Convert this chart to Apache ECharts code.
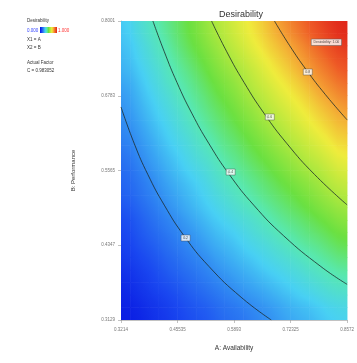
<!DOCTYPE html>
<html><head><meta charset="utf-8">
<script src="https://cdn.jsdelivr.net/npm/echarts@6/dist/echarts.min.js"></script>
<style>html,body{margin:0;padding:0;background:#fff}#c{width:357px;height:363px}</style>
</head><body><div id="c"></div>
<script>
// Grid cell centres (A: Availability, B: Performance)
const xCenters = [0.3326,0.3549,0.3772,0.3995,0.4219,0.4442,0.4665,0.4889,0.5112,0.5335,0.5558,0.5782,0.6005,0.6228,0.6452,0.6675,0.6898,0.7121,0.7345,0.7568,0.7791,0.8015,0.8238,0.8461];
const yCenters = [0.3231,0.3434,0.3637,0.3840,0.4043,0.4246,0.4449,0.4652,0.4855,0.5058,0.5261,0.5464,0.5667,0.5870,0.6073,0.6276,0.6479,0.6682,0.6885,0.7088,0.7291,0.7494,0.7697,0.7900];
// Desirability read from the colour field, rows bottom -> top
const desirability = [
[.02,.03,.04,.06,.07,.08,.10,.11,.12,.13,.15,.16,.17,.18,.20,.21,.22,.24,.25,.26,.27,.29,.30,.31],
[.03,.04,.06,.07,.08,.10,.11,.13,.14,.15,.17,.18,.19,.21,.22,.23,.25,.26,.28,.29,.30,.32,.33,.34],
[.04,.06,.07,.09,.10,.11,.13,.14,.16,.17,.19,.20,.22,.23,.24,.26,.27,.29,.30,.32,.33,.35,.36,.37],
[.05,.07,.08,.10,.12,.13,.15,.16,.18,.19,.21,.22,.24,.25,.27,.28,.30,.31,.33,.34,.36,.37,.39,.40],
[.07,.08,.10,.11,.13,.15,.16,.18,.19,.21,.23,.24,.26,.27,.29,.31,.32,.34,.35,.37,.39,.40,.42,.43],
[.08,.10,.11,.13,.15,.16,.18,.20,.21,.23,.25,.26,.28,.30,.31,.33,.35,.36,.38,.40,.41,.43,.45,.47],
[.09,.11,.13,.14,.16,.18,.20,.21,.23,.25,.27,.28,.30,.32,.34,.35,.37,.39,.41,.43,.44,.46,.48,.50],
[.10,.12,.14,.16,.18,.19,.21,.23,.25,.27,.29,.30,.32,.34,.36,.38,.40,.42,.43,.45,.47,.49,.51,.53],
[.11,.13,.15,.17,.19,.21,.23,.25,.27,.29,.31,.33,.35,.36,.38,.40,.42,.44,.46,.48,.50,.52,.54,.56],
[.13,.15,.17,.19,.21,.23,.25,.27,.29,.31,.33,.35,.37,.39,.41,.43,.45,.47,.49,.51,.53,.55,.57,.59],
[.14,.16,.18,.20,.22,.24,.26,.28,.30,.33,.35,.37,.39,.41,.43,.45,.47,.49,.51,.53,.55,.58,.60,.62],
[.15,.17,.19,.21,.24,.26,.28,.30,.32,.34,.37,.39,.41,.43,.45,.47,.50,.52,.54,.56,.58,.60,.63,.65],
[.16,.18,.21,.23,.25,.27,.30,.32,.34,.36,.39,.41,.43,.45,.48,.50,.52,.54,.57,.59,.61,.63,.66,.68],
[.17,.20,.22,.24,.27,.29,.31,.34,.36,.38,.41,.43,.45,.48,.50,.52,.55,.57,.59,.62,.64,.66,.69,.71],
[.19,.21,.23,.26,.28,.31,.33,.35,.38,.40,.43,.45,.47,.50,.52,.55,.57,.60,.62,.64,.67,.69,.72,.74],
[.20,.22,.25,.27,.30,.32,.35,.37,.40,.42,.45,.47,.50,.52,.55,.57,.60,.62,.65,.67,.70,.72,.75,.77],
[.21,.24,.26,.29,.31,.34,.36,.39,.42,.44,.47,.49,.52,.54,.57,.60,.62,.65,.67,.70,.72,.75,.77,.80],
[.22,.25,.27,.30,.33,.35,.38,.41,.43,.46,.49,.51,.54,.57,.59,.62,.65,.67,.70,.72,.75,.78,.80,.83],
[.23,.26,.29,.32,.34,.37,.40,.42,.45,.48,.51,.53,.56,.59,.62,.64,.67,.70,.72,.75,.78,.81,.83,.86],
[.25,.27,.30,.33,.36,.39,.41,.44,.47,.50,.53,.55,.58,.61,.64,.67,.70,.72,.75,.78,.81,.84,.86,.89],
[.26,.29,.32,.34,.37,.40,.43,.46,.49,.52,.55,.58,.60,.63,.66,.69,.72,.75,.78,.81,.84,.86,.89,.92],
[.27,.30,.33,.36,.39,.42,.45,.48,.51,.54,.57,.60,.63,.66,.69,.72,.75,.77,.80,.83,.86,.89,.92,.95],
[.28,.31,.34,.37,.40,.43,.47,.50,.53,.56,.59,.62,.65,.68,.71,.74,.77,.80,.83,.86,.89,.92,.95,.98],
[.29,.33,.36,.39,.42,.45,.48,.51,.54,.58,.61,.64,.67,.70,.73,.76,.80,.83,.86,.89,.92,.95,.98,1.00]
];
// Contour lines
const contour02 = [[0.3214,0.660],[0.353,0.60],[0.385,0.55],[0.424,0.50],[0.471,0.45],[0.530,0.40],[0.606,0.35],[0.6775,0.3129]];
const contour04 = [[0.397,0.8001],[0.424,0.75],[0.454,0.70],[0.489,0.65],[0.530,0.60],[0.578,0.55],[0.636,0.50],[0.707,0.45],[0.795,0.40],[0.8572,0.371]];
const contour06 = [[0.536,0.8001],[0.572,0.75],[0.613,0.70],[0.660,0.65],[0.715,0.60],[0.780,0.55],[0.8572,0.5005]];
const contour08 = [[0.685,0.8001],[0.721,0.76],[0.761,0.72],[0.806,0.68],[0.8572,0.639]];
const contourLabels = [[0.4745,0.4465,'0.2'],[0.5812,0.554,'0.4'],[0.674,0.6437,'0.6'],[0.764,0.717,'0.8']];
const optimum = [[0.847,0.785,'Desirability: 1.00']];
const xTicks = [0.3214,0.45535,0.5893,0.72325,0.8572];
const yTicks = [0.3129,0.4347,0.5565,0.6783,0.8001];

const palette = ['#0612e0','#1a48f0','#3088f2','#48d0f4','#58e8b0','#6ae040','#b0e83e','#f0ec3c','#f4a434','#ee5a26','#e0261a'];
const nx = xCenters.length, ny = yCenters.length;
const cells = [];
yCenters.forEach((y, j) => xCenters.forEach((x, i) => cells.push([x, y, desirability[j][i]])));
const hw = (xCenters[1] - xCenters[0]) / 2;
const hh = (yCenters[1] - yCenters[0]) / 2;
const colorOf = v => echarts.color.lerp(Math.max(0, Math.min(1, v)), palette);
// value at a cell corner = mean of the cells touching it (rendering only)
function cornerVal(ci, cj) {
  let s = 0, n = 0;
  for (let a = ci - 1; a <= ci; a++) for (let b = cj - 1; b <= cj; b++) {
    if (a >= 0 && a < nx && b >= 0 && b < ny) { s += desirability[b][a]; n++; }
  }
  return s / n;
}
function renderCell(params, api) {
  const idx = params.dataIndex, i = idx % nx, j = Math.floor(idx / nx);
  const x = api.value(0), y = api.value(1);
  const p1 = api.coord([x - hw, y + hh]);
  const p2 = api.coord([x + hw, y - hh]);
  const W = p2[0] - p1[0], H = p2[1] - p1[1];
  const v00 = cornerVal(i, j), v10 = cornerVal(i + 1, j), v01 = cornerVal(i, j + 1), v11 = cornerVal(i + 1, j + 1);
  const gx = ((v10 - v00) + (v11 - v01)) / 2 / W;
  const gy = ((v00 - v01) + (v10 - v11)) / 2 / H;
  const vc = (v00 + v10 + v01 + v11) / 4;
  const cx = p1[0] + W / 2, cy = p1[1] + H / 2;
  const g = Math.hypot(gx, gy);
  let fill;
  if (g < 1e-9) fill = colorOf(vc);
  else {
    const ux = gx / g, uy = gy / g;
    const L = W / 2 * Math.abs(ux) + H / 2 * Math.abs(uy);
    const vs = vc - L * g, ve = vc + L * g;
    const stops = [];
    for (let k = 0; k <= 4; k++) stops.push({offset: k / 4, color: colorOf(vs + (ve - vs) * k / 4)});
    fill = {type: 'linear', x: cx - L * ux, y: cy - L * uy, x2: cx + L * ux, y2: cy + L * uy, global: true, colorStops: stops};
  }
  return {type: 'rect', shape: {x: p1[0] - 0.3, y: p1[1] - 0.3, width: W + 0.6, height: H + 0.6}, style: {fill}};
}

const chart = echarts.init(document.getElementById('c'), null, {renderer: 'canvas'});
const lineStyle = {color: '#1d2b2b', width: 0.8};
const mkLine = d => ({type: 'line', data: d, smooth: true, symbol: 'none', lineStyle, silent: true, z: 3});
const FF = 'Liberation Sans';
const barStops = palette.map((c, k) => ({offset: k / (palette.length - 1), color: c}));
chart.setOption({
  animation: false,
  title: {text: 'Desirability', left: 236, top: 5, textAlign: 'center',
    textStyle: {fontSize: 9, fontWeight: 'normal', color: '#333', fontFamily: FF}},
  grid: {left: 121, right: 5, top: 21, bottom: 43},
  xAxis: {type: 'value', min: 0.3214, max: 0.8572,
    name: 'A: Availability', nameLocation: 'middle', nameGap: 25,
    nameTextStyle: {fontSize: 6.5, color: '#333', fontFamily: FF},
    axisLine: {show: true, lineStyle: {color: '#999', width: 0.6}},
    axisTick: {show: true, customValues: xTicks, length: 3, lineStyle: {color: '#999', width: 0.6}},
    axisLabel: {customValues: xTicks, fontSize: 4.5, color: '#777', margin: 7, fontFamily: FF,
      formatter: v => String(v)},
    splitLine: {show: false}},
  yAxis: {type: 'value', min: 0.3129, max: 0.8001,
    name: 'B: Performance', nameLocation: 'middle', nameGap: 45, nameRotate: 90,
    nameTextStyle: {fontSize: 6, color: '#333', fontFamily: FF},
    axisLine: {show: true, lineStyle: {color: '#999', width: 0.6}},
    axisTick: {show: true, customValues: yTicks, length: 3, lineStyle: {color: '#999', width: 0.6}},
    axisLabel: {customValues: yTicks, fontSize: 4.5, color: '#777', margin: 6, fontFamily: FF,
      formatter: v => String(v)},
    splitLine: {show: false}},
  graphic: [
    {type: 'text', left: 27, top: 18, style: {text: 'Desirability', fontSize: 4.5, fill: '#333', fontFamily: FF}},
    {type: 'text', left: 27, top: 28, style: {text: '0.000', fontSize: 4.5, fill: '#3344ff', fontFamily: FF}},
    {type: 'rect', left: 40, top: 27, shape: {width: 17, height: 6},
      style: {fill: {type: 'linear', x: 0, y: 0, x2: 1, y2: 0, colorStops: barStops}}},
    {type: 'text', left: 58, top: 28, style: {text: '1.000', fontSize: 4.5, fill: '#ff3333', fontFamily: FF}},
    {type: 'text', left: 27, top: 37, style: {text: 'X1 = A', fontSize: 4.5, fill: '#333', fontFamily: FF}},
    {type: 'text', left: 27, top: 45, style: {text: 'X2 = B', fontSize: 4.5, fill: '#333', fontFamily: FF}},
    {type: 'text', left: 27, top: 60, style: {text: 'Actual Factor', fontSize: 4.5, fill: '#333', fontFamily: FF}},
    {type: 'text', left: 27, top: 68, style: {text: 'C = 0.983052', fontSize: 4.5, fill: '#333', fontFamily: FF}}
  ],
  series: [
    {type: 'custom', data: cells, clip: true, silent: true, z: 1, renderItem: renderCell},
    mkLine(contour02), mkLine(contour04), mkLine(contour06), mkLine(contour08),
    {type: 'scatter', data: contourLabels, symbol: 'rect', symbolSize: [9, 6], z: 5, silent: true,
      itemStyle: {color: '#fff', borderColor: '#444', borderWidth: 0.5},
      label: {show: true, position: 'inside', fontSize: 3.5, color: '#222', formatter: p => p.value[2]}},
    {type: 'scatter', data: optimum, symbolSize: 1, z: 6, silent: true,
      itemStyle: {color: '#e0261a'},
      label: {show: true, position: 'left', distance: 1, offset: [0, 12], fontSize: 3.5, color: '#222',
        backgroundColor: '#fff', borderColor: '#555', borderWidth: 0.5, padding: [1, 2],
        formatter: p => p.value[2]}}
  ]
});
</script></body></html>
